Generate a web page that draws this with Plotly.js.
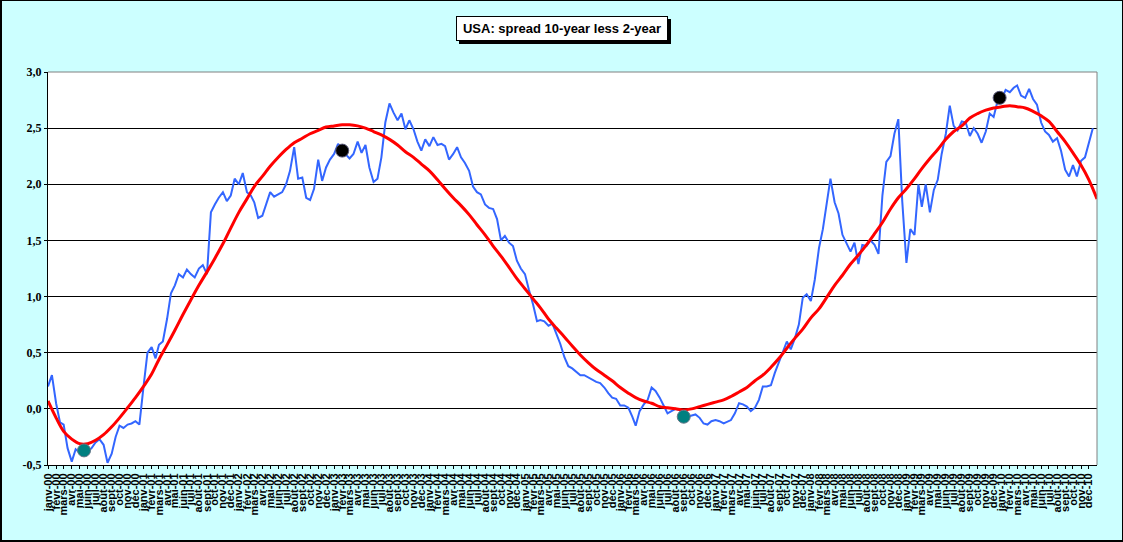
<!DOCTYPE html>
<html lang="fr">
<head>
  <meta charset="UTF-8">
  <title>USA: spread 10-year less 2-year</title>
  <script src="https://cdn.plot.ly/plotly-3.0.1.min.js" charset="utf-8"></script>
  <style>
    body { margin: 0; background: #CCFFFF; }
    #wrap { position: relative; width: 1123px; height: 542px; }
    #chart { width: 1123px; height: 542px; }
    #frame {
      position: absolute; left: 0; top: 0; width: 1123px; height: 542px;
      box-sizing: border-box; pointer-events: none;
      border: 1px solid #000; border-left-width: 2px; border-bottom-width: 2px;
    }
  </style>
</head>
<body>
  <div id="wrap">
    <div id="chart"></div>
    <div id="frame"></div>
  </div>
  <script>
    // month names as in the French Excel axis
    const monthNames = ["janv", "févr", "mars", "avr", "mai", "juin", "juil", "août", "sept", "oct", "nov", "déc"];
    const firstYear = 2000;
    const nMonths = 132;

    // spread 10y - 2y, two readings per month (1st and 16th), from janv-00
    const spread = [
      0.20, 0.30, 0.05, -0.12, -0.14, -0.35, -0.47, -0.36, -0.39, -0.37, -0.38, -0.35,
      -0.30, -0.27, -0.32, -0.48, -0.40, -0.25, -0.15, -0.17, -0.14, -0.13, -0.11, -0.14,
      0.20, 0.50, 0.55, 0.45, 0.57, 0.60, 0.80, 1.03, 1.10, 1.20, 1.17, 1.24,
      1.20, 1.17, 1.25, 1.28, 1.20, 1.75, 1.82, 1.88, 1.93, 1.85, 1.90, 2.05,
      2.00, 2.10, 1.93, 1.90, 1.84, 1.70, 1.72, 1.83, 1.93, 1.89, 1.91, 1.93,
      2.00, 2.12, 2.33, 2.05, 2.06, 1.88, 1.86, 1.96, 2.22, 2.03, 2.15, 2.22,
      2.27, 2.36, 2.30, 2.26, 2.23, 2.27, 2.38, 2.28, 2.35, 2.15, 2.02, 2.05,
      2.24, 2.55, 2.72, 2.64, 2.57, 2.63, 2.49, 2.57, 2.49, 2.38, 2.30, 2.40,
      2.34, 2.42, 2.35, 2.36, 2.34, 2.22, 2.27, 2.33, 2.24, 2.19, 2.12, 1.98,
      1.93, 1.91, 1.82, 1.79, 1.78, 1.69, 1.50, 1.54, 1.48, 1.45, 1.32, 1.25,
      1.20, 1.06, 0.93, 0.78, 0.79, 0.78, 0.74, 0.76, 0.67, 0.58, 0.46, 0.38,
      0.36, 0.33, 0.30, 0.30, 0.28, 0.26, 0.24, 0.23, 0.19, 0.14, 0.10, 0.09,
      0.03, 0.03, 0.01, -0.07, -0.15, -0.02, 0.04, 0.08, 0.19, 0.16, 0.10, 0.03,
      -0.04, -0.02, 0.00, -0.01, -0.05, -0.07, -0.06, -0.05, -0.08, -0.13, -0.14, -0.11,
      -0.10, -0.11, -0.13, -0.11, -0.10, -0.04, 0.05, 0.04, 0.02, -0.02, 0.01, 0.08,
      0.20, 0.20, 0.21, 0.32, 0.42, 0.50, 0.60, 0.53, 0.63, 0.75, 0.99, 1.02,
      0.96, 1.15, 1.43, 1.60, 1.80, 2.05, 1.84, 1.74, 1.55, 1.48, 1.40, 1.48,
      1.29, 1.46, 1.45, 1.50, 1.46, 1.38, 1.90, 2.20, 2.25, 2.45, 2.58, 1.85,
      1.30, 1.60, 1.55, 2.00, 1.80, 2.00, 1.75, 1.95, 2.04, 2.27, 2.45, 2.70,
      2.52, 2.48, 2.56, 2.55, 2.43, 2.50, 2.45, 2.37, 2.47, 2.63, 2.60, 2.74,
      2.76, 2.84, 2.82, 2.86, 2.88, 2.79, 2.77, 2.85, 2.76, 2.71, 2.55, 2.47,
      2.44, 2.38, 2.41, 2.30, 2.13, 2.07, 2.17, 2.07, 2.21, 2.24, 2.38, 2.50
    ];

    // smooth fitted cycle, first of each month from janv-00 to janv-11
    const fit = [
      0.07, -0.08, -0.20, -0.27, -0.31, -0.31, -0.28, -0.23, -0.16, -0.08, 0.01, 0.10,
      0.20, 0.31, 0.44, 0.57, 0.70, 0.84, 0.97, 1.10, 1.22, 1.34, 1.47, 1.61,
      1.75, 1.87, 1.98, 2.07, 2.16, 2.24, 2.31, 2.37, 2.41, 2.45, 2.48, 2.51,
      2.52, 2.53, 2.53, 2.52, 2.50, 2.47, 2.44, 2.40, 2.35, 2.29, 2.24, 2.18,
      2.12, 2.04, 1.96, 1.88, 1.81, 1.73, 1.64, 1.55, 1.45, 1.36, 1.26, 1.16,
      1.07, 0.98, 0.90, 0.80, 0.72, 0.64, 0.56, 0.48, 0.41, 0.35, 0.30, 0.25,
      0.19, 0.14, 0.10, 0.07, 0.05, 0.02, 0.01, 0.00, -0.01, 0.00, 0.02, 0.04,
      0.06, 0.08, 0.11, 0.15, 0.19, 0.25, 0.30, 0.37, 0.45, 0.54, 0.63, 0.71,
      0.81, 0.89, 0.99, 1.10, 1.19, 1.29, 1.37, 1.46, 1.56, 1.66, 1.78, 1.88,
      1.96, 2.05, 2.14, 2.23, 2.31, 2.40, 2.47, 2.52, 2.59, 2.63, 2.66, 2.68,
      2.69, 2.70, 2.69, 2.68, 2.65, 2.61, 2.56, 2.47, 2.38, 2.28, 2.17, 2.04,
      1.87
    ];

    // highlighted turning points
    const peakDates = ["2003-02-01", "2009-12-24"];
    const peakValues = [2.30, 2.77];
    const troughDates = ["2000-05-18", "2006-09-01"];
    const troughValues = [-0.37, -0.07];

    const yTicks = [-0.5, 0, 0.5, 1, 1.5, 2, 2.5, 3];

    function pad(n) { return n < 10 ? "0" + n : "" + n; }
    function monthDate(m, day) {
      const y = firstYear + Math.floor(m / 12);
      return y + "-" + pad(m % 12 + 1) + "-" + pad(day);
    }

    const spreadX = spread.map(function (v, i) { return monthDate(Math.floor(i / 2), i % 2 ? 16 : 1); });
    const fitX = fit.map(function (v, i) { return monthDate(i, 1); });

    const tickVals = [];
    const tickText = [];
    for (let m = 0; m < nMonths; m++) {
      tickVals.push(monthDate(m, 1));
      tickText.push(monthNames[m % 12] + "-" + pad((firstYear + Math.floor(m / 12)) % 100));
    }

    const data = [
      {
        x: spreadX, y: spread, type: "scatter", mode: "lines",
        line: {color: "#3366FF", width: 2}
      },
      {
        x: fitX, y: fit, type: "scatter", mode: "lines",
        line: {color: "#FF0000", width: 3, shape: "spline"}
      },
      {
        x: peakDates, y: peakValues, type: "scatter", mode: "markers",
        marker: {color: "#000000", size: 13, line: {color: "#555577", width: 1}}
      },
      {
        x: troughDates, y: troughValues, type: "scatter", mode: "markers",
        marker: {color: "#008080", size: 13, line: {color: "#667788", width: 1}}
      }
    ];

    const titleFont = {family: "Liberation Sans, Arial, sans-serif", size: 13, color: "#000"};
    // title box, plus a plain black box behind it as drop shadow
    const titleBox = {xref: "paper", yref: "paper", x: 0.49, y: 1.11,
      xanchor: "center", yanchor: "middle", showarrow: false,
      width: 204, height: 17, borderwidth: 1, borderpad: 3, font: titleFont};

    const layout = {
      width: 1123,
      height: 542,
      margin: {l: 48, r: 26, t: 72, b: 77},
      paper_bgcolor: "#CCFFFF",
      plot_bgcolor: "#FFFFFF",
      showlegend: false,
      xaxis: {
        type: "date",
        range: ["2000-01-01", "2011-01-01"],
        tickmode: "array",
        tickvals: tickVals,
        ticktext: tickText,
        tickangle: -90,
        ticks: "outside",
        ticklen: 3,
        tickcolor: "#000",
        showgrid: false,
        showline: true,
        linecolor: "#000",
        linewidth: 1,
        zeroline: false,
        automargin: false,
        tickfont: {family: "Liberation Sans, Arial, sans-serif", size: 11, color: "#000", weight: "bold"}
      },
      yaxis: {
        range: [-0.5, 3],
        tickmode: "array",
        tickvals: yTicks,
        ticktext: yTicks.map(function (v) { return v.toFixed(1).replace(".", ","); }),
        ticks: "outside",
        ticklen: 3,
        tickcolor: "#000",
        showgrid: true,
        gridcolor: "#000",
        gridwidth: 1,
        showline: true,
        linecolor: "#000",
        linewidth: 1,
        zeroline: false,
        automargin: false,
        tickfont: {family: "Liberation Serif, Times New Roman, serif", size: 12, color: "#000", weight: "bold"}
      },
      shapes: [
        {type: "line", xref: "paper", yref: "paper", x0: 0, x1: 1, y0: 1, y1: 1,
         line: {color: "#808080", width: 1}, layer: "above"},
        {type: "line", xref: "paper", yref: "paper", x0: 1, x1: 1, y0: 0, y1: 1,
         line: {color: "#808080", width: 1}, layer: "above"}
      ],
      annotations: [
        Object.assign({}, titleBox, {text: " ", xshift: 3, yshift: -3,
          bgcolor: "#000", bordercolor: "#000"}),
        Object.assign({}, titleBox, {text: "<b>USA: spread 10-year less 2-year</b>",
          bgcolor: "#FFFFFF", bordercolor: "#000"})
      ]
    };

    Plotly.newPlot("chart", data, layout, {displayModeBar: false, staticPlot: true});
  </script>
</body>
</html>
